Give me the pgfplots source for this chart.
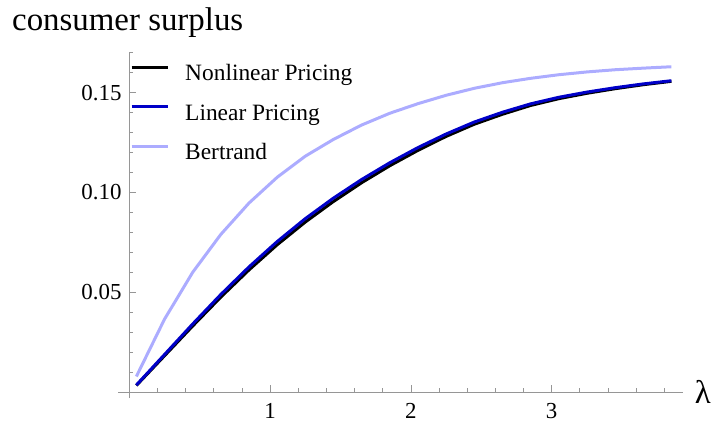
\documentclass[border=0pt]{standalone}
\usepackage{pgfplots}
\pgfplotsset{compat=1.18}
\usepackage{fontspec}
\setmainfont{Liberation Serif}
\definecolor{linblue}{RGB}{0,0,200}
\definecolor{bertblue}{RGB}{172,172,255}
\definecolor{axgray}{RGB}{150,150,150}
\begin{document}
\begin{tikzpicture}
\begin{axis}[
  x=140.8bp, y=1996bp,
  xmin=-0.08, xmax=3.93, ymin=-0.003, ymax=0.1705,
  axis lines=middle,
  axis line style={-, draw=axgray, line width=0.9bp},
  tick style={draw=axgray, line width=0.8bp},
  tick align=inside,
  major tick length=7bp, minor tick length=4bp,
  xtick={1,2,3}, xticklabels={1,2,3},
  ytick={0.05,0.10,0.15}, yticklabels={0.05,0.10,0.15},
  minor xtick={0.2,0.4,0.6,0.8,1.2,1.4,1.6,1.8,2.2,2.4,2.6,2.8,3.2,3.4,3.6,3.8},
  minor ytick={0.01,0.02,0.03,0.04,0.06,0.07,0.08,0.09,0.11,0.12,0.13,0.14,0.16,0.17},
  xticklabel style={anchor=north, inner sep=0pt, yshift=-11bp, font=\fontsize{23}{27}\selectfont},
  yticklabel style={anchor=east, inner sep=0pt, xshift=-7.6bp, font=\fontsize{23}{27}\selectfont},
  xlabel={λ}, ylabel={consumer surplus},
  every axis x label/.style={at={(axis cs:4.074,0)}, anchor=center, font=\fontsize{33}{38}\selectfont},
  every axis y label/.style={at={(axis cs:-0.833,0.18106)}, anchor=base west, inner sep=0pt, font=\fontsize{33}{38}\selectfont},
  legend cell align=left,
  legend style={at={(axis cs:0.005,0.1648)}, anchor=north west, draw=none, fill=none,
    inner sep=0pt, inner xsep=0pt, inner ysep=0pt,
    font=\fontsize{23.5}{28}\selectfont,
    nodes={inner sep=0pt, text height=17.6bp, text depth=5.9bp},
    /tikz/row sep=16bp,
    /tikz/every odd column/.append style={column sep=16bp}},
  legend image code/.code={\draw[#1] (0bp,7.8bp) -- (36bp,7.8bp);},
]
\coordinate (O) at (axis cs:0,0);
\addplot[black, line width=3bp] coordinates {
(0.05,0.0033) (0.25,0.0182) (0.45,0.0331) (0.65,0.0476) (0.85,0.0612)
(1.05,0.0738) (1.25,0.0852) (1.45,0.0955) (1.65,0.1049) (1.85,0.1134)
(2.05,0.1211) (2.25,0.1281) (2.45,0.1342) (2.65,0.1392) (2.85,0.1436)
(3.05,0.1470) (3.25,0.1497) (3.45,0.1520) (3.65,0.1540) (3.85,0.1557)};
\addlegendentry{Nonlinear Pricing}
\addplot[linblue, line width=3bp] coordinates {
(0.05,0.0035) (0.25,0.0188) (0.45,0.0341) (0.65,0.0489) (0.85,0.0627)
(1.05,0.0754) (1.25,0.0869) (1.45,0.0972) (1.65,0.1065) (1.85,0.1149)
(2.05,0.1225) (2.25,0.1293) (2.45,0.1353) (2.65,0.1402) (2.85,0.1444)
(3.05,0.1477) (3.25,0.1503) (3.45,0.1525) (3.65,0.1544) (3.85,0.1560)};
\addlegendentry{Linear Pricing}
\addplot[bertblue, line width=3bp] coordinates {
(0.05,0.0078) (0.25,0.0365) (0.45,0.0600) (0.65,0.0790) (0.85,0.0947)
(1.05,0.1076) (1.25,0.1182) (1.45,0.1266) (1.65,0.1338) (1.85,0.1397)
(2.05,0.1445) (2.25,0.1487) (2.45,0.1522) (2.65,0.1550) (2.85,0.1572)
(3.05,0.1590) (3.25,0.1604) (3.45,0.1615) (3.65,0.1623) (3.85,0.1630)};
\addlegendentry{Bertrand}
\end{axis}
\pgfresetboundingbox
\path ([shift={(-129.3bp,-29.9bp)}]O) rectangle ([shift={(586.7bp,392.1bp)}]O);
\end{tikzpicture}
\end{document}
